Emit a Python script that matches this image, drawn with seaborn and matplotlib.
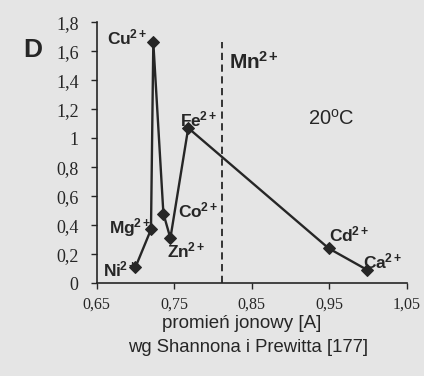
import matplotlib
matplotlib.use("Agg")
import matplotlib.pyplot as plt
import seaborn as sns
import numpy as np

# ---- data ----
ions = ["Ni", "Mg", "Cu", "Co", "Zn", "Fe", "Cd", "Ca"]
radius = [0.70, 0.72, 0.723, 0.736, 0.745, 0.768, 0.949, 0.999]
values = [0.11, 0.37, 1.66, 0.48, 0.31, 1.07, 0.24, 0.09]
mn_radius = 0.812
mn_top = 1.66
x_ticks = [0.65, 0.75, 0.85, 0.95, 1.05]
y_ticks = [0, 0.2, 0.4, 0.6, 0.8, 1.0, 1.2, 1.4, 1.6, 1.8]

sns.set_theme(style="ticks")
plt.rcParams["font.family"] = ["Liberation Sans", "DejaVu Sans"]
plt.rcParams["mathtext.fontset"] = "custom"
plt.rcParams["mathtext.rm"] = "Liberation Sans"
plt.rcParams["mathtext.it"] = "Liberation Sans"
plt.rcParams["mathtext.bf"] = "Liberation Sans:bold"

bg = "#e5e5e5"
ink = "#262626"
W, H = 424, 376
fig = plt.figure(figsize=(4.24, 3.76), dpi=100, facecolor=bg)
ax = fig.add_axes([0.228, 0.247, 0.732, 0.694], facecolor=bg)

sns.lineplot(x=radius, y=values, sort=False, ax=ax, color=ink, linewidth=1.7,
             marker="D", markersize=6.5, markeredgecolor=ink, markerfacecolor=ink)
ax.plot([mn_radius, mn_radius], [0, mn_top], color=ink, linestyle=(0, (4, 2.5)), linewidth=1.3)

ax.set_xlim(x_ticks[0], x_ticks[-1])
ax.set_ylim(y_ticks[0], y_ticks[-1])
ax.set_xticks(x_ticks)
ax.set_yticks(y_ticks)
ax.set_xticklabels([f"{t:.2f}".replace(".", ",") for t in x_ticks],
                   family="Liberation Serif", fontsize=11.5, color=ink)
ax.set_yticklabels([f"{t:g}".replace(".", ",") for t in y_ticks],
                   family="Liberation Serif", fontsize=13, color=ink)
ax.tick_params(axis="x", direction="out", length=4, width=1, color=ink, pad=6)
ax.tick_params(axis="y", direction="out", length=4, width=1, color=ink, pad=9)
for s in ["top", "right"]:
    ax.spines[s].set_visible(False)
for s in ["left", "bottom"]:
    ax.spines[s].set_color(ink)
    ax.spines[s].set_linewidth(1.2)
ax.set_xlabel("")

fig.text(242 / W, 1 - 323 / H, "promień jonowy [A]", fontsize=13.5, color=ink,
         ha="center", va="center")
fig.text(248 / W, 1 - 348 / H, "wg Shannona i Prewitta [177]", fontsize=13.3, color=ink,
         ha="center", va="center")

sup = r"$\hspace{-0.06}^{\mathbf{2+}}$"
offsets = {"Ni": (-32, -9), "Mg": (-42, -4), "Cu": (-46, -2), "Co": (15, -4),
           "Zn": (-3, -19), "Fe": (-8, 2), "Cd": (0, 7), "Ca": (-4, 2)}
for ion, xv, yv in zip(ions, radius, values):
    ax.annotate(ion + sup, (xv, yv), xytext=offsets[ion],
                textcoords="offset pixels", ha="left", va="baseline",
                fontsize=12.5, fontweight="bold", color=ink)

ax.text(mn_radius + 0.008, 1.48, "Mn" + sup, fontsize=15, fontweight="bold",
        color=ink, ha="left", va="baseline")
ax.text(0.923, 1.09, "20$^{\\mathrm{o}}$C", fontsize=14.5, color=ink,
        ha="left", va="baseline")
fig.text(33 / W, 1 - 50 / H, "D", fontsize=19, fontweight="bold", color=ink,
         ha="center", va="center")

fig.savefig("out.png", dpi=100, facecolor=bg)
